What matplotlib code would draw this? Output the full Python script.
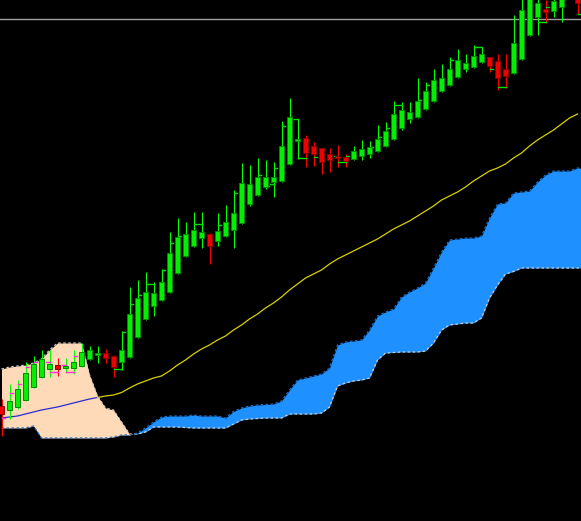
import numpy as np
import matplotlib
matplotlib.use("Agg")
import matplotlib.pyplot as plt

# Candles (price in chart points)
opens = [115, 111, 114, 121, 134, 144, 152, 156, 153, 153, 155, 162, 166, 168, 165, 159, 164, 184, 202, 215,
         221, 229, 248, 265, 275, 283, 287, 280, 285, 291, 298, 317, 326, 334, 339, 340, 357, 380, 383, 375,
         373, 367, 365, 364, 362, 365, 367, 370, 375, 382, 393, 402, 404, 412, 420, 430, 436, 444, 452, 454,
         459, 464, 460, 452, 448, 462, 486, 504, 512, 510, 514, 536, 527]
closes = [107, 120, 132, 148, 157, 162, 157, 152, 155, 159, 169, 171, 168, 163, 154, 171, 207, 223, 229, 228,
          239, 268, 284, 287, 291, 289, 275, 290, 299, 308, 338, 337, 344, 344, 344, 375, 404, 382, 368, 367,
          359, 361, 363, 360, 370, 372, 374, 382, 390, 407, 411, 409, 420, 430, 441, 443, 452, 461, 458, 465,
          467, 455, 443, 445, 478, 511, 525, 518, 509, 520, 524, 528, 518]
highs = [122, 137, 141, 159, 165, 171, 171, 163, 163, 171, 178, 175, 175, 172, 166, 190, 234, 241, 249, 239,
         252, 289, 303, 299, 309, 309, 288, 308, 316, 331, 358, 356, 363, 361, 359, 400, 423, 402, 386, 379,
         373, 373, 376, 367, 375, 381, 380, 396, 399, 420, 419, 419, 443, 439, 452, 457, 464, 472, 467, 476,
         474, 464, 467, 467, 506, 524, 531, 524, 521, 524, 529, 541, 531]
lows = [85, 102, 112, 120, 133, 143, 144, 145, 148, 147, 154, 161, 158, 158, 144, 151, 163, 183, 201, 205,
        220, 228, 247, 264, 274, 273, 257, 275, 284, 273, 297, 315, 325, 332, 324, 339, 356, 362, 354, 355,
        347, 349, 354, 354, 361, 361, 363, 369, 374, 381, 391, 398, 403, 411, 419, 429, 435, 443, 449, 453,
        458, 449, 431, 433, 447, 461, 485, 486, 498, 504, 499, 524, 507]

# Moving average
ma = [103, 104, 105, 107, 109, 111, 112.5, 114, 116, 118, 120, 122, 123.5, 125, 126, 128.5, 133, 137, 140, 143,
      145, 150, 156, 161, 167, 172, 176, 181, 185, 191, 196, 202, 207, 213, 218, 224, 231, 237, 243, 247,
      251, 257, 262, 266, 270, 274, 278, 282, 287, 292, 296, 300, 305, 310, 315, 321, 325, 329, 334, 340,
      345, 350, 353, 357, 363, 368, 375, 381, 386, 391, 397, 403, 407]

# Ichimoku cloud spans
span_a = [93, 93, 93, 93, 95, 83, 83, 83, 83, 83, 83, 83, 83, 83, 84, 86, 86,
          88, 93, 99, 104, 105, 105, 105, 106, 105, 105, 105, 103,
          109.5, 113, 115, 116, 116.5, 117, 120, 131, 141, 143, 145, 147, 153,
          176, 179, 180, 181, 191, 205, 209, 212, 224, 229, 233, 238,
          253, 269, 281, 282, 283, 283, 285, 303, 317, 318,
          328, 329, 330, 339, 346, 350, 350, 350, 353, 353]
span_b = [152, 154, 155, 156, 158, 162, 171, 178, 178, 178, 178, 146, 125, 113, 111, 99, 87,
          87, 89, 94, 94, 94, 94, 93.5, 93, 93, 93, 93, 93,
          97, 101, 102, 102.5, 103, 103, 103, 107, 107, 107, 107, 108, 114,
          135, 138, 140, 141, 143, 161, 168, 168.5, 169, 169, 169, 170,
          178, 191, 196, 197, 198, 198, 203, 223, 236, 247,
          249.5, 253, 253, 253, 253, 253, 253, 253, 253, 253]

# Small side ticks: bar index, level, side (-1 left, +1 right)
tick_idx = [0, 1, 2, 3, 4, 6, 6, 7, 8, 8, 9, 9,
            14, 15, 15, 16, 17, 18, 19, 20, 21, 22, 24, 25, 27, 29, 32, 33, 34, 34, 35, 37, 37, 38, 39,
            42, 42, 43, 43, 46, 47, 48, 49, 50, 52, 53, 56, 59, 60, 61, 62, 63, 67, 68, 68, 72]
tick_val = [103, 128, 137, 154, 159, 159, 149, 149, 156, 149, 149, 165,
            152, 152, 189, 217, 226, 237, 237, 251, 278, 285, 297, 297, 296, 328, 346, 335, 353, 337, 395, 402, 363, 363, 364,
            365, 359, 359, 365, 374, 384, 393, 416, 416, 421, 436, 461, 474, 474, 452, 434.5, 434.5, 499, 499, 514, 507]
tick_side = [1, 1, 1, 1, 1, -1, 1, -1, -1, 1, -1, 1,
             1, -1, 1, 1, 1, 1, -1, 1, 1, 1, 1, -1, 1, 1, 1, 1, 1, -1, 1, -1, 1, -1, 1,
             -1, 1, -1, 1, 1, 1, 1, 1, -1, 1, 1, 1, 1, -1, 1, 1, -1, 1, -1, 1, 1]

price_line = 502

o = np.array(opens)
c = np.array(closes)
h = np.array(highs)
l = np.array(lows)
x = np.arange(len(o))
xc = np.arange(len(span_a))
a = np.array(span_a)
b = np.array(span_b)

fig = plt.figure(figsize=(5.81, 5.21), dpi=100, facecolor="black")
ax = fig.add_axes([0, 0, 1, 1])
ax.set_facecolor("black")

# Cloud
ax.fill_between(xc, a, b, where=a >= b, interpolate=True, color="#1e90ff", lw=0, zorder=1)
ax.fill_between(xc, a, b, where=a < b, interpolate=True, color="#ffdab9", lw=0, zorder=1)
ax.plot(xc, b, color="#d4cbc2", lw=0.9, ls=(0, (2, 2)), zorder=2)
ax.plot(xc, a, color="#1a6fcf", lw=0.9, ls=(0, (2, 2)), zorder=2)

# Moving average (blue inside the early cloud, yellow after)
ax.plot(x[:13], ma[:13], color="#2a2ad0", lw=0.9, zorder=3)
ax.plot(x[12:], ma[12:], color="#d8d000", lw=0.9, zorder=3)

# Current price line
ax.axhline(price_line, color="#a0a0a0", lw=1, zorder=2)

# Candles
up = c >= o
wick_col = np.where(up, "#00ff00", "#ff0000")
body_col = np.where(up, "#00f000", "#f00000")
edge_col = np.where(up, "#008a00", "#8a0000")
ax.vlines(x, l, h, colors=wick_col, lw=0.8, zorder=4)
body_h = np.maximum(np.abs(c - o), 1.2)
ax.bar(x, body_h, bottom=np.minimum(o, c), width=0.7, color=body_col,
       edgecolor=edge_col, linewidth=0.7, zorder=5)

# Side ticks
for i, v, s in zip(tick_idx, tick_val, tick_side):
    col = "#ff33cc" if i <= 9 else "#00e000"
    ax.plot([i, i + 0.42 * s], [v, v], color=col, lw=1.0, zorder=4)

ax.set_xlim(-0.1875, 72.4375)
ax.set_ylim(0, 521)
ax.axis("off")

plt.savefig("out.png", dpi=100, facecolor="black")
